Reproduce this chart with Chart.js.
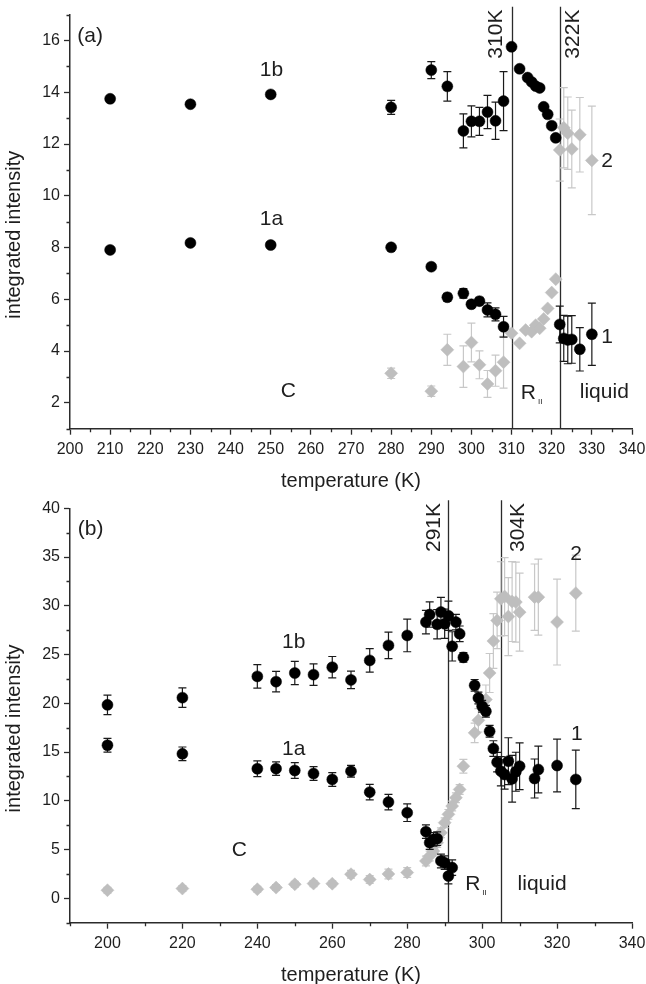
<!DOCTYPE html>
<html>
<head>
<meta charset="utf-8">
<title>Integrated intensity vs temperature</title>
<script src="https://cdn.jsdelivr.net/npm/chart.js@4.4.1/dist/chart.umd.min.js"></script>
<style>
  html, body { margin: 0; padding: 0; background: #ffffff; }
  #wrap { position: relative; width: 646px; height: 984px; overflow: hidden; }
  canvas { position: absolute; left: 0; }
  #panelA { top: 0; }
  #panelB { top: 494px; }
</style>
</head>
<body>
<div id="wrap">
  <canvas id="panelA" width="646" height="494"></canvas>
  <canvas id="panelB" width="646" height="490"></canvas>
</div>
<script>
// ---------- panel (a) ----------
const xTicksA = [200, 210, 220, 230, 240, 250, 260, 270, 280, 290, 300, 310, 320, 330, 340];
const yTicksA = [2, 4, 6, 8, 10, 12, 14, 16];

// peak 1b (black circles)
const tempA1b = [210, 230, 250, 280, 290, 294, 298, 300, 302, 304, 306, 308, 310, 312, 314, 315, 316, 317, 318, 319, 320, 321];
const valA1b  = [13.75, 13.54, 13.92, 13.42, 14.86, 14.23, 12.51, 12.88, 12.88, 13.24, 12.9, 13.66, 15.76, 14.91, 14.57, 14.4, 14.24, 14.17, 13.44, 13.15, 12.71, 12.24];
const errA1b  = [0, 0, 0, 0.27, 0.33, 0.57, 0.66, 0.6, 0.54, 0.64, 0.72, 1.14, 0, 0, 0, 0, 0, 0, 0, 0, 0, 0];

// peak 1a
const tempA1a = [210, 230, 250, 280, 290, 294, 298, 300, 302, 304, 306, 308];
const valA1a  = [7.91, 8.18, 8.1, 8.01, 7.26, 6.08, 6.23, 5.81, 5.93, 5.59, 5.42, 4.94];
const errA1a  = [0, 0, 0, 0, 0.1, 0.15, 0.18, 0.12, 0.15, 0.27, 0.25, 0.4];

// peak 1 (liquid)
const tempA1 = [322, 323, 324, 325, 327, 330];
const valA1  = [5.03, 4.49, 4.43, 4.45, 4.07, 4.65];
const errA1  = [0.71, 0.89, 0.92, 0.92, 0.84, 1.2];

// peak C (grey diamonds)
const tempAC = [280, 290, 294, 298, 300, 302, 304, 306, 308];
const valAC  = [3.14, 2.45, 4.05, 3.4, 4.33, 3.47, 2.73, 3.24, 3.57];
const errAC  = [0.2, 0.2, 0.6, 0.8, 0.75, 0.54, 0.52, 0.6, 1.0];

// peak 2
const tempA2 = [310, 312, 313.5, 315, 316, 317, 318, 319, 320, 321, 322, 323, 324, 325, 327, 330];
const valA2  = [4.69, 4.3, 4.81, 4.75, 5.0, 4.88, 5.24, 5.65, 6.26, 6.78, 11.77, 12.63, 12.42, 11.81, 12.36, 11.37];
const errA2  = [0, 0, 0, 0, 0, 0, 0, 0, 0, 0, 1.2, 1.55, 1.4, 1.5, 1.44, 2.1];

// ---------- panel (b) ----------
const xTicksB = [200, 220, 240, 260, 280, 300, 320, 340];
const yTicksB = [0, 5, 10, 15, 20, 25, 30, 35, 40];

const tempB1b = [200, 220, 240, 245, 250, 255, 260, 265, 270, 275, 280, 285, 286, 288, 289, 290, 291, 292, 293, 294, 295];
const valB1b  = [19.84, 20.58, 22.76, 22.22, 23.11, 22.94, 23.7, 22.4, 24.4, 25.94, 26.96, 28.33, 29.1, 28.1, 29.36, 28.16, 28.98, 25.84, 28.33, 27.13, 24.71];
const errB1b  = [1.0, 1.0, 1.2, 1.05, 1.2, 1.1, 1.1, 0.9, 1.2, 1.36, 1.67, 1.2, 1.3, 1.5, 1.5, 1.5, 1.5, 1.5, 0.8, 0.8, 0.5];

const tempB1a = [200, 220, 240, 245, 250, 255, 260, 265, 270, 275, 280, 285, 286, 287, 288, 289, 290, 291, 292];
const valB1a  = [15.7, 14.82, 13.29, 13.3, 13.11, 12.8, 12.19, 13.04, 10.89, 9.87, 8.78, 6.84, 5.71, 6.05, 6.12, 3.83, 3.66, 2.29, 3.15];
const errB1a  = [0.7, 0.7, 0.8, 0.7, 0.8, 0.7, 0.7, 0.6, 0.8, 0.8, 0.9, 0.7, 0.7, 0.7, 0.7, 0.7, 0.7, 0.8, 0.8];

const tempB1 = [298, 299, 300, 301, 302, 303, 304, 305, 306, 307, 308, 309, 310, 314, 315, 320, 325];
const valB1  = [21.84, 20.55, 19.7, 19.18, 17.13, 15.36, 13.96, 13.04, 12.7, 14.07, 12.26, 12.98, 13.55, 12.29, 13.21, 13.62, 12.19];
const errB1  = [0.6, 0.6, 0.6, 0.6, 0.6, 0.8, 1.0, 1.5, 1.5, 2.4, 2.4, 2.0, 2.4, 2.0, 2.4, 2.7, 3.0];

const tempBC = [200, 220, 240, 245, 250, 255, 260, 265, 270, 275, 280, 285, 286, 287, 288, 289, 290, 291, 292, 293, 294];
const valBC  = [0.83, 1.0, 0.93, 1.1, 1.44, 1.51, 1.5, 2.47, 1.92, 2.5, 2.64, 3.83, 4.34, 4.85, 5.71, 6.73, 7.76, 8.61, 9.46, 10.32, 11.17];
const errBC  = [0.3, 0.3, 0.3, 0.3, 0.3, 0.3, 0.3, 0.4, 0.4, 0.5, 0.5, 0.5, 0.5, 0.5, 0.5, 0.5, 0.5, 0.5, 0.5, 0.5, 0.5];

const tempB2 = [295, 298, 299, 301, 302, 303, 304, 305, 306, 307, 308, 309, 310, 314, 315, 320, 325];
const valB2  = [13.55, 16.97, 18.26, 20.38, 23.11, 26.39, 28.5, 30.72, 30.95, 28.9, 30.44, 30.38, 29.35, 30.89, 30.89, 28.33, 31.3];
const errB2  = [0.7, 1.0, 1.2, 1.5, 2.0, 2.8, 2.9, 3.8, 4.0, 4.0, 4.1, 4.1, 4.0, 3.4, 3.9, 4.4, 3.9];

// ---------- styling ----------
const FONT = '"Liberation Sans", Arial, Helvetica, sans-serif';
const INK = '#1e1e1e';
const AXIS = '#2b2b2b';
const GRAY = '#bebebe';
const GRAY_BAR = '#c8c8c8';

Chart.defaults.font.family = FONT;
Chart.defaults.color = INK;

function pairs(xs, ys) {
    return xs.map((x, i) => ({ x: x, y: ys[i] }));
}

function circles(label, xs, ys, errs) {
    return {
        label: label, data: pairs(xs, ys), errors: errs, errorColor: '#1a1a1a',
        pointStyle: 'circle', pointRadius: 5.5,
        backgroundColor: '#000000', borderColor: '#000000', borderWidth: 0.5
    };
}

function diamonds(label, xs, ys, errs) {
    return {
        label: label, data: pairs(xs, ys), errors: errs, errorColor: GRAY_BAR,
        pointStyle: 'rectRot', pointRadius: 6.5,
        backgroundColor: GRAY, borderColor: GRAY, borderWidth: 0.5
    };
}

// error bars, drawn just before the markers of their own dataset
const errorBars = {
    id: 'errorBars',
    beforeDatasetDraw(chart, args) {
        const ds = chart.data.datasets[args.index];
        if (!ds.errors) return;
        const ctx = chart.ctx, x = chart.scales.x, y = chart.scales.y;
        ctx.save();
        ctx.strokeStyle = ds.errorColor;
        ctx.lineWidth = 1.2;
        ds.data.forEach((pt, i) => {
            const e = ds.errors[i];
            if (!e) return;
            const px = x.getPixelForValue(pt.x);
            const top = y.getPixelForValue(pt.y + e);
            const bot = y.getPixelForValue(pt.y - e);
            ctx.beginPath();
            ctx.moveTo(px, top); ctx.lineTo(px, bot);
            ctx.moveTo(px - 4, top); ctx.lineTo(px + 4, top);
            ctx.moveTo(px - 4, bot); ctx.lineTo(px + 4, bot);
            ctx.stroke();
        });
        ctx.restore();
    }
};
Chart.register(errorBars);

// phase lines, minor ticks, labels inside the plot, y title
function makeDecor(cfg) {
    return {
        id: 'panelDecor',
        beforeDatasetsDraw(chart) {
            const { ctx, chartArea } = chart;
            const x = chart.scales.x;
            ctx.save();
            ctx.strokeStyle = AXIS;
            ctx.lineWidth = 1.3;
            cfg.lines.forEach(t => {
                const px = Math.round(x.getPixelForValue(t)) + 0.5;
                ctx.beginPath();
                ctx.moveTo(px, chartArea.top - 8);
                ctx.lineTo(px, chartArea.bottom);
                ctx.stroke();
            });
            ctx.restore();
        },
        afterDraw(chart) {
            const { ctx, chartArea } = chart;
            const x = chart.scales.x, y = chart.scales.y;
            ctx.save();

            // minor ticks
            ctx.strokeStyle = AXIS;
            ctx.lineWidth = 1.3;
            ctx.beginPath();
            for (let v = x.min; v <= x.max + 1e-6; v += cfg.xMinor) {
                if (cfg.xTicks.some(t => Math.abs(t - v) < 1e-6)) continue;
                const px = Math.round(x.getPixelForValue(v)) + 0.5;
                ctx.moveTo(px, chartArea.bottom);
                ctx.lineTo(px, chartArea.bottom + 3.5);
            }
            for (let v = y.min; v <= y.max + 1e-6; v += cfg.yMinor) {
                if (cfg.yTicks.some(t => Math.abs(t - v) < 1e-6)) continue;
                const py = Math.round(y.getPixelForValue(v)) + 0.5;
                ctx.moveTo(chartArea.left, py);
                ctx.lineTo(chartArea.left - 3.5, py);
            }
            ctx.stroke();

            // in-plot labels
            ctx.fillStyle = INK;
            ctx.textAlign = 'center';
            ctx.textBaseline = 'middle';
            cfg.labels.forEach(l => {
                const px = x.getPixelForValue(l.x);
                const py = y.getPixelForValue(l.y);
                ctx.font = '21px ' + FONT;
                if (l.rot) {
                    ctx.save();
                    ctx.translate(px, py);
                    ctx.rotate(-Math.PI / 2);
                    ctx.fillText(l.text, 0, 0);
                    ctx.restore();
                } else {
                    ctx.fillText(l.text, px, py);
                    if (l.sub) {
                        const w = ctx.measureText(l.text).width;
                        ctx.font = '8px ' + FONT;
                        ctx.textAlign = 'left';
                        ctx.fillText(l.sub, px + w / 2 + 2, py + 9);
                        ctx.textAlign = 'center';
                    }
                }
            });

            // y axis title
            ctx.font = '20px ' + FONT;
            ctx.save();
            ctx.translate(14, (chartArea.top + chartArea.bottom) / 2 + 13);
            ctx.rotate(-Math.PI / 2);
            ctx.fillText('integrated intensity', 0, 0);
            ctx.restore();

            ctx.restore();
        }
    };
}

function makeScales(xr, yr, xTicks, yTicks, xBoxHeight, xTitlePad) {
    return {
        x: {
            type: 'linear', position: 'bottom', min: xr[0], max: xr[1],
            afterBuildTicks: s => { s.ticks = xTicks.map(v => ({ value: v })); },
            afterFit: s => { s.height = xBoxHeight; s.paddingLeft = 0; s.paddingRight = 0; },
            grid: { drawOnChartArea: false, drawTicks: true, tickLength: 6, color: AXIS, tickColor: AXIS, tickWidth: 1.3 },
            border: { display: true, color: AXIS, width: 1.5 },
            ticks: { font: { size: 16 }, color: INK, padding: 5, maxRotation: 0, autoSkip: false },
            title: {
                display: true, text: 'temperature (K)', color: INK,
                font: { size: 20, lineHeight: 0.9 }, padding: { top: 0, bottom: xTitlePad }
            }
        },
        y: {
            type: 'linear', position: 'left', min: yr[0], max: yr[1],
            afterBuildTicks: s => { s.ticks = yTicks.map(v => ({ value: v })); },
            afterFit: s => { s.width = 70; s.paddingTop = 0; s.paddingBottom = 0; },
            grid: { drawOnChartArea: false, drawTicks: true, tickLength: 6, color: AXIS, tickColor: AXIS, tickWidth: 1.3 },
            border: { display: true, color: AXIS, width: 1.5 },
            ticks: { font: { size: 16 }, color: INK, padding: 4, autoSkip: false },
            title: { display: false }
        }
    };
}

function makeChart(canvasId, datasets, scales, top, decor) {
    return new Chart(document.getElementById(canvasId), {
        type: 'scatter',
        data: { datasets: datasets },
        options: {
            responsive: false,
            animation: false,
            events: [],
            layout: { padding: { left: 0, right: 14, top: top, bottom: 0 } },
            plugins: { legend: { display: false }, tooltip: { enabled: false } },
            scales: scales
        },
        plugins: [makeDecor(decor)]
    });
}

makeChart('panelA', [
    circles('1b', tempA1b, valA1b, errA1b),
    circles('1a', tempA1a, valA1a, errA1a),
    circles('1', tempA1, valA1, errA1),
    diamonds('C', tempAC, valAC, errAC),
    diamonds('2', tempA2, valA2, errA2)
], makeScales([200, 340], [1, 17], xTicksA, yTicksA, 65.3, 4), 14.7, {
    lines: [310, 322],
    xTicks: xTicksA, yTicks: yTicksA, xMinor: 5, yMinor: 1,
    labels: [
        { text: '(a)', x: 205, y: 16.18 },
        { text: '1b', x: 250.2, y: 14.85 },
        { text: '1a', x: 250.2, y: 9.1 },
        { text: 'C', x: 254.4, y: 2.46 },
        { text: 'R', sub: 'II', x: 314.2, y: 2.38 },
        { text: 'liquid', x: 333.1, y: 2.42 },
        { text: '1', x: 333.8, y: 4.52 },
        { text: '2', x: 333.8, y: 11.35 },
        { text: '310K', x: 306.1, y: 16.25, rot: true },
        { text: '322K', x: 325.4, y: 16.25, rot: true }
    ]
});

makeChart('panelB', [
    circles('1b', tempB1b, valB1b, errB1b),
    circles('1a', tempB1a, valB1a, errB1a),
    circles('1', tempB1, valB1, errB1),
    diamonds('C', tempBC, valBC, errBC),
    diamonds('2', tempB2, valB2, errB2)
], makeScales([190, 340], [-2.5, 40], xTicksB, yTicksB, 61.3, 0), 14.3, {
    lines: [291, 305],
    xTicks: xTicksB, yTicks: yTicksB, xMinor: 10, yMinor: 2.5,
    labels: [
        { text: '(b)', x: 195.5, y: 37.88 },
        { text: '1b', x: 249.7, y: 26.26 },
        { text: '1a', x: 249.7, y: 15.3 },
        { text: 'C', x: 235.2, y: 4.97 },
        { text: '2', x: 325.1, y: 35.25 },
        { text: '1', x: 325.3, y: 16.88 },
        { text: 'R', sub: 'II', x: 297.5, y: 1.47 },
        { text: 'liquid', x: 316, y: 1.44 },
        { text: '291K', x: 287.1, y: 38.03, rot: true },
        { text: '304K', x: 309.7, y: 38.03, rot: true }
    ]
});
</script>
</body>
</html>
